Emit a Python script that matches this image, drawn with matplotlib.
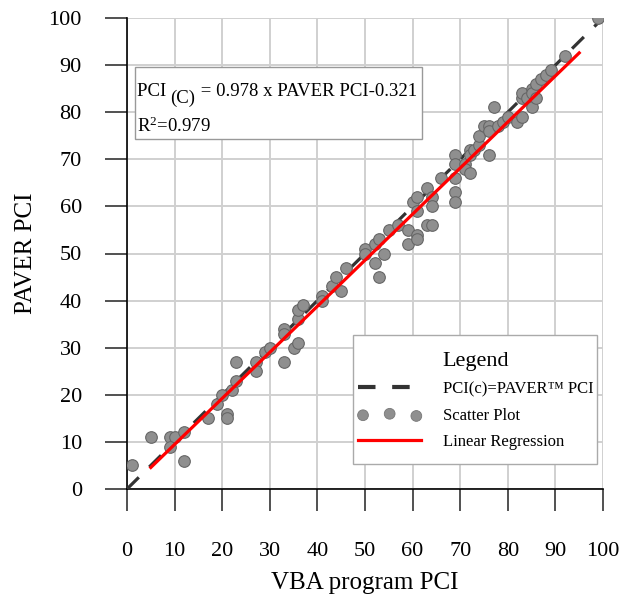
import matplotlib
matplotlib.use("Agg")
import matplotlib.pyplot as plt
from matplotlib.lines import Line2D
from matplotlib.patches import Rectangle
import numpy as np

plt.rcParams['font.family'] = ['Liberation Serif', 'DejaVu Serif']
plt.rcParams['mathtext.fontset'] = 'custom'
plt.rcParams['mathtext.rm'] = 'Liberation Serif'
plt.rcParams['mathtext.it'] = 'Liberation Serif:italic'

# Scatter data (VBA program PCI vs PAVER PCI)
vba_pci = [1, 5, 9, 10, 9, 12, 12, 17, 19, 20, 21, 21, 22, 23, 23, 27, 27, 29, 30,
           33, 33, 33, 35, 36, 36, 36, 37, 41, 41, 43, 44, 45, 46, 50, 50, 52, 52,
           53, 53, 54, 55, 57, 59, 59, 60, 61, 61, 61, 61, 63, 63, 64, 64, 64, 66,
           69, 69, 69, 69, 69, 71, 71, 72, 72, 72, 73, 74, 74, 75, 76, 76, 76, 77,
           78, 79, 80, 82, 83, 83, 83, 84, 85, 85, 85, 86, 86, 87, 88, 89, 92, 99]
paver_pci = [5, 11, 11, 11, 9, 12, 6, 15, 18, 20, 16, 15, 21, 23, 27, 27, 25, 29, 30,
             27, 34, 33, 30, 31, 36, 38, 39, 41, 40, 43, 45, 42, 47, 51, 50, 48, 52,
             53, 45, 50, 55, 56, 55, 52, 61, 62, 59, 54, 53, 64, 56, 62, 60, 56, 66,
             71, 69, 66, 63, 61, 69, 68, 67, 72, 71, 72, 73, 75, 77, 77, 76, 71, 81,
             77, 78, 79, 78, 79, 83, 84, 83, 81, 85, 84, 83, 86, 87, 88, 89, 92, 100]

# Equality line and regression line
equal_x = [0, 100]
reg_slope = 0.978
reg_intercept = -0.321
reg_x = np.array([5, 95])

fig = plt.figure(figsize=(6.24, 5.99), dpi=100)
ax = fig.add_axes([127/624, 1 - 489/599, (603-127)/624, (489-18)/599])
ax.set_xlim(0, 100)
ax.set_ylim(0, 100)

ax.set_xticks(np.arange(0, 101, 10))
ax.set_yticks(np.arange(0, 101, 10))
ax.grid(True, color='#d0d0d0', linewidth=1.4, zorder=0)
ax.set_axisbelow(True)
for s in ['top', 'right']:
    ax.spines[s].set_visible(False)
for s in ['left', 'bottom']:
    ax.spines[s].set_color('black')
    ax.spines[s].set_linewidth(1.2)
ax.tick_params(axis='both', direction='out', length=16, width=1.2, color='#333333',
               labelsize=16)
ax.tick_params(axis='x', pad=22)
ax.tick_params(axis='y', pad=16.5)

ax.plot(equal_x, equal_x, color='#333333', linewidth=2.3, dashes=(5.2, 4.6), zorder=3)
ax.scatter(vba_pci, paver_pci, s=70, color='#8f8f8f', edgecolor='#666666',
           linewidth=0.8, zorder=4)
ax.plot(reg_x, reg_slope * reg_x + reg_intercept, color='red', linewidth=2.3, zorder=5)

ax.set_xlabel('VBA program PCI', fontsize=18, labelpad=8)
ax.set_ylabel('PAVER PCI', fontsize=18, labelpad=8)

# Equation box
ax.add_patch(Rectangle((1.7, 74.3), 60.3, 15.3, facecolor='white', edgecolor='#999999',
                       linewidth=1.0, zorder=6))
t1 = ax.text(2.0, 82.6, 'PCI ', fontsize=13.5, zorder=7, va='bottom')
t2 = ax.annotate('(C)', xy=(1, 0), xycoords=t1, xytext=(0, -5),
                 textcoords='offset points', fontsize=13.5, va='bottom', zorder=7)
t3 = ax.annotate(' = 0.978 x PAVER PCI-0.321', xy=(1, 0), xycoords=t2, xytext=(0, 5),
                 textcoords='offset points', fontsize=13.5, va='bottom', zorder=7)
ax.text(2.0, 75.8, r'R$^{\mathrm{2}}$=0.979', fontsize=13.5, zorder=7, va='baseline')

# Legend frame + entries
ax.add_patch(Rectangle((47.4, 5.3), 51.3, 27.4, facecolor='white', edgecolor='#aaaaaa',
                       linewidth=1.0, zorder=9))
handles = [
    Line2D([0], [0], color='#333333', linewidth=3, dashes=(4.2, 4)),
    ax.scatter([], [], s=60, color='#8f8f8f', edgecolor='#777777', linewidth=0.6),
    Line2D([0], [0], color='red', linewidth=2.3),
]
labels = ['PCI(c)=PAVER\u2122 PCI', 'Scatter Plot', 'Linear Regression']
leg = ax.legend(handles, labels, title='Legend', loc='upper left',
                bbox_to_anchor=(0.4853, 0.291), borderaxespad=0, borderpad=0,
                fontsize=12, title_fontsize=16,
                scatterpoints=3, handlelength=3.8, handletextpad=1.3,
                labelspacing=0.62, frameon=False)
leg.set_zorder(10)

fig.savefig('out.png', dpi=100)
